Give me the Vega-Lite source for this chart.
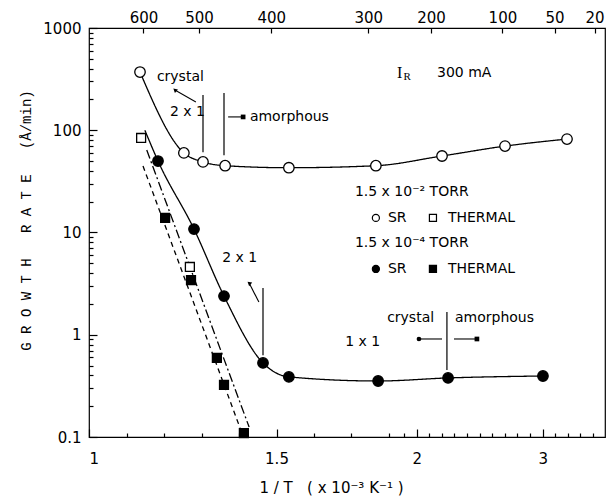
{
  "$schema": "https://vega.github.io/schema/vega-lite/v6.json",
  "width": 516,
  "height": 409,
  "autosize": {"type": "none"},
  "padding": {"left": 89, "top": 28, "right": 5, "bottom": 67},
  "config": {
    "view": {"stroke": "black", "strokeWidth": 1.2},
    "font": "DejaVu Sans",
    "axis": {
      "grid": false,
      "domain": false,
      "tickColor": "black",
      "tickWidth": 1.2,
      "labelColor": "black",
      "titleColor": "black",
      "labelFont": "DejaVu Sans",
      "labelFontSize": 15,
      "labelOverlap": false
    },
    "text": {"font": "DejaVu Sans", "fontSize": 14, "color": "black"}
  },
  "datasets": {
    "points": [
      {"pressure": "1.5e-2", "method": "SR", "x": 1.136, "y": 371},
      {"pressure": "1.5e-2", "method": "SR", "x": 1.253, "y": 60},
      {"pressure": "1.5e-2", "method": "SR", "x": 1.304, "y": 49},
      {"pressure": "1.5e-2", "method": "SR", "x": 1.363, "y": 45},
      {"pressure": "1.5e-2", "method": "SR", "x": 1.533, "y": 43},
      {"pressure": "1.5e-2", "method": "SR", "x": 1.765, "y": 45},
      {"pressure": "1.5e-2", "method": "SR", "x": 2.201, "y": 56},
      {"pressure": "1.5e-2", "method": "SR", "x": 2.701, "y": 70},
      {"pressure": "1.5e-2", "method": "SR", "x": 3.193, "y": 82},
      {"pressure": "1.5e-2", "method": "THERMAL", "x": 1.139, "y": 84},
      {"pressure": "1.5e-2", "method": "THERMAL", "x": 1.269, "y": 4.6},
      {"pressure": "1.5e-4", "method": "SR", "x": 1.184, "y": 50},
      {"pressure": "1.5e-4", "method": "SR", "x": 1.28, "y": 10.8},
      {"pressure": "1.5e-4", "method": "SR", "x": 1.36, "y": 2.39},
      {"pressure": "1.5e-4", "method": "SR", "x": 1.464, "y": 0.53},
      {"pressure": "1.5e-4", "method": "SR", "x": 1.533, "y": 0.387},
      {"pressure": "1.5e-4", "method": "SR", "x": 1.771, "y": 0.353},
      {"pressure": "1.5e-4", "method": "SR", "x": 2.249, "y": 0.378},
      {"pressure": "1.5e-4", "method": "SR", "x": 3.002, "y": 0.395},
      {"pressure": "1.5e-4", "method": "THERMAL", "x": 1.203, "y": 13.9},
      {"pressure": "1.5e-4", "method": "THERMAL", "x": 1.272, "y": 3.43},
      {"pressure": "1.5e-4", "method": "THERMAL", "x": 1.341, "y": 0.593},
      {"pressure": "1.5e-4", "method": "THERMAL", "x": 1.36, "y": 0.323},
      {"pressure": "1.5e-4", "method": "THERMAL", "x": 1.413, "y": 0.109}
    ],
    "fits": [
      {"curve": "sr_high", "x": 1.136, "y": 371},
      {"curve": "sr_high", "x": 1.253, "y": 60},
      {"curve": "sr_high", "x": 1.304, "y": 49},
      {"curve": "sr_high", "x": 1.363, "y": 45},
      {"curve": "sr_high", "x": 1.533, "y": 43},
      {"curve": "sr_high", "x": 1.765, "y": 45},
      {"curve": "sr_high", "x": 2.201, "y": 56},
      {"curve": "sr_high", "x": 2.701, "y": 70},
      {"curve": "sr_high", "x": 3.193, "y": 82},
      {"curve": "sr_low", "x": 1.149, "y": 100},
      {"curve": "sr_low", "x": 1.184, "y": 50},
      {"curve": "sr_low", "x": 1.28, "y": 10.8},
      {"curve": "sr_low", "x": 1.36, "y": 2.39},
      {"curve": "sr_low", "x": 1.464, "y": 0.53},
      {"curve": "sr_low", "x": 1.533, "y": 0.387},
      {"curve": "sr_low", "x": 1.771, "y": 0.353},
      {"curve": "sr_low", "x": 2.249, "y": 0.378},
      {"curve": "sr_low", "x": 3.002, "y": 0.395},
      {"curve": "thermal_low", "x": 1.144, "y": 44.7},
      {"curve": "thermal_low", "x": 1.403, "y": 0.122},
      {"curve": "thermal_high", "x": 1.154, "y": 64},
      {"curve": "thermal_high", "x": 1.427, "y": 0.125}
    ],
    "key_symbols": [
      {"pressure": "1.5e-2", "method": "SR", "x": 1.765, "y": 13.9},
      {"pressure": "1.5e-2", "method": "THERMAL", "x": 2.129, "y": 13.9},
      {"pressure": "1.5e-4", "method": "SR", "x": 1.765, "y": 4.4},
      {"pressure": "1.5e-4", "method": "THERMAL", "x": 2.129, "y": 4.4}
    ],
    "boundaries": [
      {"x": 1.304, "y": 221, "y2": 61},
      {"x": 1.36, "y": 231, "y2": 57},
      {"x": 1.464, "y": 2.87, "y2": 0.63},
      {"x": 2.24, "y": 1.67, "y2": 0.452}
    ],
    "arrows": [
      {"x": 1.285, "y": 189, "x2": 1.229, "y2": 248, "head": "diag"},
      {"x": 1.371, "y": 135, "x2": 1.411, "y2": 135, "head": "right"},
      {"x": 1.453, "y": 2.09, "x2": 1.427, "y2": 3.2, "head": "diag"},
      {"x": 2.201, "y": 0.909, "x2": 2.018, "y2": 0.909, "head": "left"},
      {"x": 2.296, "y": 0.909, "x2": 2.478, "y2": 0.909, "head": "right"}
    ],
    "labels": [
      {"text": "crystal", "x": 1.181, "y": 332, "kind": "plain"},
      {"text": "2 x 1", "x": 1.216, "y": 151, "kind": "plain"},
      {"text": "amorphous", "x": 1.429, "y": 135, "kind": "plain"},
      {"text": "300 mA", "x": 2.161, "y": 363, "kind": "plain"},
      {"text": "1.5 x 10⁻² TORR", "x": 1.709, "y": 24.9, "kind": "plain"},
      {"text": "SR", "x": 1.797, "y": 13.9, "kind": "plain"},
      {"text": "THERMAL", "x": 2.248, "y": 13.9, "kind": "plain"},
      {"text": "1.5 x 10⁻⁴ TORR", "x": 1.709, "y": 7.89, "kind": "plain"},
      {"text": "SR", "x": 1.797, "y": 4.4, "kind": "plain"},
      {"text": "THERMAL", "x": 2.248, "y": 4.4, "kind": "plain"},
      {"text": "2 x 1", "x": 1.355, "y": 5.64, "kind": "plain"},
      {"text": "1 x 1", "x": 1.683, "y": 0.849, "kind": "plain"},
      {"text": "crystal", "x": 1.795, "y": 1.46, "kind": "plain"},
      {"text": "amorphous", "x": 2.304, "y": 1.46, "kind": "plain"},
      {"text": "I", "x": 1.844, "y": 363, "kind": "symbol"},
      {"text": "R", "x": 1.895, "y": 335, "kind": "subscript"}
    ]
  },
  "resolve": {"axis": {"x": "independent", "y": "independent"}},
  "layer": [
    {
      "data": {"name": "fits"},
      "mark": {"type": "line", "interpolate": "monotone", "color": "black", "strokeWidth": 1.3},
      "encoding": {
        "x": {
          "field": "x",
          "type": "quantitative",
          "scale": {"type": "linear", "domain": [1, 1.81, 3.4945], "range": [0, 303.75, 516], "nice": false, "zero": false},
          "axis": {
            "orient": "bottom",
            "values": [1, 1.5, 2, 3],
            "labelExpr": "datum.value == 1 ? '1' : datum.value == 1.5 ? '1.5' : datum.value == 2 ? '2' : '3'",
            "tickSize": 8,
            "offset": -8,
            "labelPadding": 14,
            "title": "1 / T\u00a0\u00a0\u00a0( x 10⁻³ K⁻¹ )",
            "titleFont": "DejaVu Sans",
            "titleFontSize": 15,
            "titleFontWeight": "normal",
            "titlePadding": 14,
            "titleX": 242
          }
        },
        "y": {
          "field": "y",
          "type": "quantitative",
          "scale": {"type": "log", "domain": [0.1, 1000], "nice": false},
          "axis": {
            "orient": "left",
            "values": [0.1, 1, 10, 100, 1000],
            "labelExpr": "datum.value == 0.1 ? '0.1' : datum.value == 1 ? '1' : datum.value == 10 ? '10' : datum.value == 100 ? '100' : '1000'",
            "tickSize": 8,
            "offset": -8,
            "labelPadding": 8,
            "title": "G R O W T H\u00a0\u00a0\u00a0R A T E\u00a0\u00a0\u00a0(Å/min)",
            "titleFont": "Liberation Mono",
            "titleFontSize": 14,
            "titleFontWeight": "normal",
            "titlePadding": 9,
            "titleY": 192
          }
        },
        "strokeDash": {
          "field": "curve",
          "type": "nominal",
          "scale": {"domain": ["sr_high", "sr_low", "thermal_low", "thermal_high"], "range": [[1, 0], [1, 0], [5, 4], [9, 3, 2, 3]]},
          "legend": null
        }
      }
    },
    {
      "data": {"name": "points"},
      "mark": {"type": "point", "filled": true, "stroke": "black", "strokeWidth": 1.3, "opacity": 1},
      "encoding": {
        "x": {
          "field": "x",
          "type": "quantitative",
          "axis": {
            "orient": "top",
            "values": [1.1453, 1.2935, 1.4859, 1.7449, 2.1136, 2.6802, 3.0941, 3.4112],
            "labelExpr": "format(1000 / datum.value - 273.15, '.0f')",
            "tickSize": 5,
            "offset": -5,
            "labelPadding": 3,
            "title": null
          }
        },
        "y": {"field": "y", "type": "quantitative", "axis": null},
        "shape": {"field": "method", "type": "nominal", "scale": {"domain": ["SR", "THERMAL"], "range": ["circle", "square"]}, "legend": null},
        "size": {"field": "method", "type": "nominal", "scale": {"domain": ["SR", "THERMAL"], "range": [110, 80]}, "legend": null},
        "fill": {"field": "pressure", "type": "nominal", "scale": {"domain": ["1.5e-2", "1.5e-4"], "range": ["white", "black"]}, "legend": null}
      }
    },
    {
      "data": {"name": "key_symbols"},
      "mark": {"type": "point", "filled": true, "stroke": "black", "strokeWidth": 1.2, "opacity": 1, "size": 50},
      "encoding": {
        "x": {"field": "x", "type": "quantitative", "axis": null},
        "y": {"field": "y", "type": "quantitative", "axis": null},
        "shape": {"field": "method", "type": "nominal", "legend": null},
        "fill": {"field": "pressure", "type": "nominal", "legend": null}
      }
    },
    {
      "data": {"name": "boundaries"},
      "mark": {"type": "rule", "color": "black", "strokeWidth": 1.2},
      "encoding": {
        "x": {
          "field": "x",
          "type": "quantitative",
          "axis": {
            "orient": "bottom",
            "values": [1.1, 1.2, 1.3, 1.4, 1.6, 1.7, 1.8, 1.9, 2.1, 2.2, 2.3, 2.4, 2.5, 2.6, 2.7, 2.8, 2.9, 3.1, 3.2, 3.3, 3.4],
            "labels": false,
            "tickSize": 4,
            "offset": -4,
            "title": null
          }
        },
        "y": {
          "field": "y",
          "type": "quantitative",
          "axis": {
            "orient": "left",
            "values": [0.2, 0.3, 0.4, 0.5, 0.6, 0.7, 0.8, 0.9, 2, 3, 4, 5, 6, 7, 8, 9, 20, 30, 40, 50, 60, 70, 80, 90, 200, 300, 400, 500, 600, 700, 800, 900],
            "labels": false,
            "tickSize": 4,
            "offset": -4,
            "title": null
          }
        },
        "y2": {"field": "y2"}
      }
    },
    {
      "data": {"name": "arrows"},
      "mark": {"type": "rule", "color": "black", "strokeWidth": 1.1},
      "encoding": {
        "x": {"field": "x", "type": "quantitative", "axis": null},
        "y": {"field": "y", "type": "quantitative", "axis": null},
        "x2": {"field": "x2"},
        "y2": {"field": "y2"}
      }
    },
    {
      "data": {"name": "arrows"},
      "transform": [{"filter": "datum.head != 'diag'"}],
      "mark": {"type": "point", "filled": true, "color": "black", "opacity": 1, "size": 22},
      "encoding": {
        "x": {"field": "x2", "type": "quantitative", "axis": null},
        "y": {"field": "y2", "type": "quantitative", "axis": null},
        "shape": {"field": "head", "type": "nominal", "scale": {"domain": ["left", "right"], "range": ["triangle-left", "triangle-right"]}, "legend": null}
      }
    },
    {
      "data": {"name": "arrows"},
      "transform": [{"filter": "datum.head == 'diag'"}],
      "mark": {"type": "point", "filled": true, "color": "black", "opacity": 1, "size": 22, "shape": "triangle-up", "angle": -50},
      "encoding": {
        "x": {"field": "x2", "type": "quantitative", "axis": null},
        "y": {"field": "y2", "type": "quantitative", "axis": null}
      }
    },
    {
      "data": {"name": "labels"},
      "transform": [{"filter": "datum.kind == 'plain'"}],
      "mark": {"type": "text", "align": "left", "baseline": "middle", "fontSize": 14},
      "encoding": {
        "x": {"field": "x", "type": "quantitative", "axis": null},
        "y": {"field": "y", "type": "quantitative", "axis": null},
        "text": {"field": "text"}
      }
    },
    {
      "data": {"name": "labels"},
      "transform": [{"filter": "datum.kind == 'symbol'"}],
      "mark": {"type": "text", "align": "left", "baseline": "middle", "font": "Liberation Serif", "fontSize": 16},
      "encoding": {
        "x": {"field": "x", "type": "quantitative", "axis": null},
        "y": {"field": "y", "type": "quantitative", "axis": null},
        "text": {"field": "text"}
      }
    },
    {
      "data": {"name": "labels"},
      "transform": [{"filter": "datum.kind == 'subscript'"}],
      "mark": {"type": "text", "align": "left", "baseline": "middle", "font": "Liberation Serif", "fontSize": 11},
      "encoding": {
        "x": {"field": "x", "type": "quantitative", "axis": null},
        "y": {"field": "y", "type": "quantitative", "axis": null},
        "text": {"field": "text"}
      }
    }
  ]
}
